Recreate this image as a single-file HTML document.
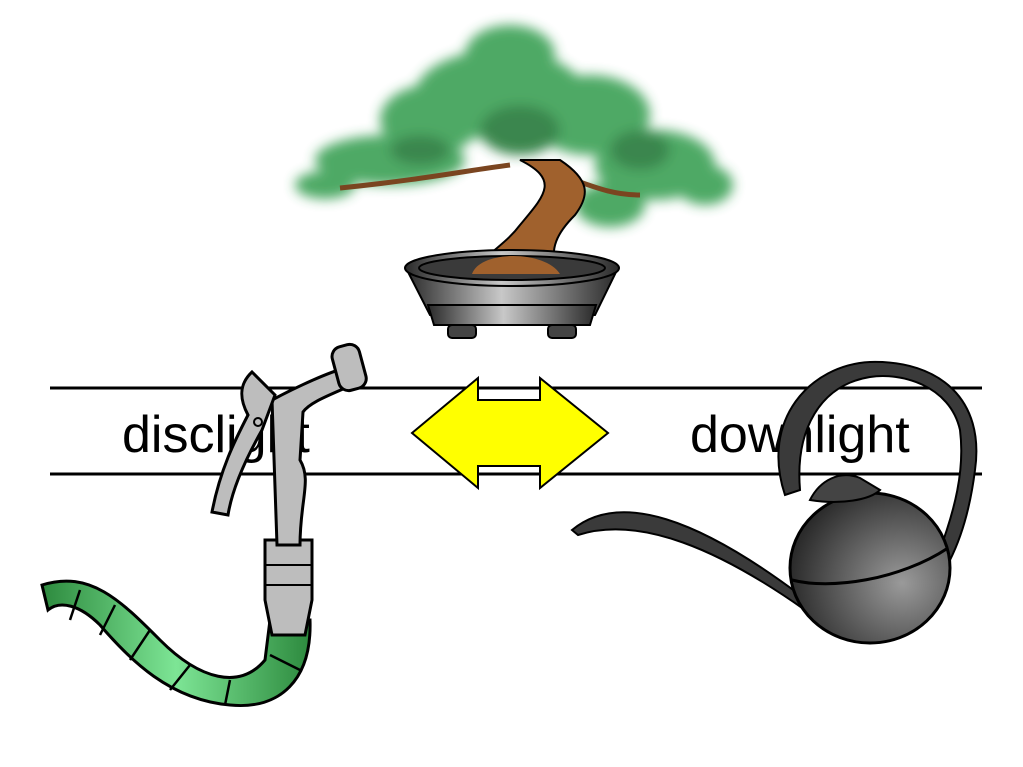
<!DOCTYPE html>
<html><head><meta charset="utf-8"><style>
html,body{margin:0;padding:0;background:#fff;}
svg{display:block;}
</style></head><body>
<svg width="1023" height="767" viewBox="0 0 1023 767" xmlns="http://www.w3.org/2000/svg">
<defs>
<filter id="blur" x="-20%" y="-20%" width="140%" height="140%"><feGaussianBlur stdDeviation="6"/></filter>
<linearGradient id="pot" x1="0" x2="1"><stop offset="0" stop-color="#2a2a2a"/><stop offset="0.45" stop-color="#c8c8c8"/><stop offset="1" stop-color="#2a2a2a"/></linearGradient>
<radialGradient id="can" cx="0.7" cy="0.6" r="0.7"><stop offset="0" stop-color="#9a9a9a"/><stop offset="1" stop-color="#2b2b2b"/></radialGradient>
<linearGradient id="hose" x1="0" x2="1"><stop offset="0" stop-color="#2d8a3e"/><stop offset="0.5" stop-color="#7de595"/><stop offset="1" stop-color="#2d8a3e"/></linearGradient>
</defs>
<rect width="1023" height="767" fill="#fff"/>
<line x1="50" y1="388" x2="982" y2="388" stroke="#000" stroke-width="3"/>
<line x1="50" y1="474" x2="982" y2="474" stroke="#000" stroke-width="3"/>
<text x="122" y="452" font-family="Liberation Sans, sans-serif" font-size="52" fill="#000">disclight</text>
<text x="690" y="452" font-family="Liberation Sans, sans-serif" font-size="52" fill="#000">downlight</text>
<polygon points="412,433 478,378 478,400 540,400 540,378 608,433 540,488 540,466 478,466 478,488" fill="#ffff00" stroke="#000" stroke-width="2"/>
<g filter="url(#blur)" fill="#3aa055" opacity="0.9">
<ellipse cx="510" cy="55" rx="45" ry="30"/>
<ellipse cx="500" cy="95" rx="85" ry="45"/>
<ellipse cx="430" cy="120" rx="50" ry="35"/>
<ellipse cx="590" cy="115" rx="60" ry="40"/>
<ellipse cx="390" cy="160" rx="75" ry="25"/>
<ellipse cx="325" cy="185" rx="30" ry="14"/>
<ellipse cx="655" cy="165" rx="60" ry="35"/>
<ellipse cx="705" cy="185" rx="28" ry="20"/>
<ellipse cx="610" cy="205" rx="35" ry="22"/>
<ellipse cx="520" cy="130" rx="40" ry="25" fill="#257a3a"/>
<ellipse cx="640" cy="150" rx="30" ry="20" fill="#257a3a"/>
<ellipse cx="420" cy="150" rx="30" ry="15" fill="#257a3a"/>
</g>
<path d="M510,165 C470,170 420,180 340,188 M560,175 C590,185 610,195 640,195" stroke="#7a4520" stroke-width="5" fill="none"/>
<path d="M470,275 C490,250 505,245 520,225 C545,195 560,180 520,160 L560,160 C590,180 590,195 575,215 C560,230 545,250 560,275 Z" fill="#a0612d" stroke="#000" stroke-width="2"/>
<path d="M406,268 L430,315 L595,315 L618,268 Z" fill="url(#pot)" stroke="#000" stroke-width="2"/>
<ellipse cx="512" cy="268" rx="107" ry="18" fill="url(#pot)" stroke="#000" stroke-width="2"/>
<ellipse cx="512" cy="268" rx="93" ry="12" fill="#3a3a3a" stroke="#000" stroke-width="2"/>
<path d="M472,274 C480,250 545,250 560,274 Z" fill="#a0612d"/>
<path d="M428,305 L596,305 L590,325 L434,325 Z" fill="url(#pot)" stroke="#000" stroke-width="2"/>
<rect x="448" y="325" width="28" height="13" rx="4" fill="#444" stroke="#000" stroke-width="2"/>
<rect x="548" y="325" width="28" height="13" rx="4" fill="#444" stroke="#000" stroke-width="2"/>
<path d="M42,585 C90,570 120,600 160,640 C200,680 240,690 265,660 L270,620 L310,620 C312,680 280,710 230,705 C170,700 130,660 100,625 C80,605 60,600 48,610 Z" fill="url(#hose)" stroke="#000" stroke-width="3"/>
<path d="M80,590 L70,620 M115,605 L100,635 M150,630 L130,660 M190,665 L170,690 M230,680 L225,705 M270,655 L300,670" stroke="#000" stroke-width="2.5"/>
<path d="M265,540 L312,540 L312,600 L305,635 L272,635 L265,600 Z" fill="#bdbdbd" stroke="#000" stroke-width="3"/>
<path d="M265,565 L312,565 M265,585 L312,585" stroke="#000" stroke-width="2"/>
<path d="M277,545 L272,400 C300,385 330,372 345,368 L352,385 C330,395 310,402 303,412 L300,460 C312,480 300,500 300,545 Z" fill="#bdbdbd" stroke="#000" stroke-width="3"/>
<rect x="335" y="345" width="28" height="45" rx="10" fill="#bdbdbd" stroke="#000" stroke-width="3" transform="rotate(-15 349 367)"/>
<path d="M252,372 L275,395 L262,430 C245,460 232,490 228,515 L212,512 C220,470 235,440 248,415 C240,400 238,385 252,372 Z" fill="#bdbdbd" stroke="#000" stroke-width="3"/>
<circle cx="258" cy="422" r="4" fill="none" stroke="#000" stroke-width="2"/>
<path d="M572,530 C620,490 700,520 800,595 L805,610 C720,550 640,515 578,535 Z" fill="#3a3a3a" stroke="#000" stroke-width="2"/>
<path d="M785,495 C760,420 810,365 870,362 C940,360 985,400 975,470 C970,510 960,540 950,560 L938,555 C955,510 965,470 960,430 C950,385 900,372 870,377 C820,385 795,430 800,490 Z" fill="#3a3a3a" stroke="#000" stroke-width="2"/>
<ellipse cx="870" cy="568" rx="80" ry="75" fill="url(#can)" stroke="#000" stroke-width="3"/>
<path d="M792,580 C830,590 900,580 948,548" stroke="#000" stroke-width="3" fill="none"/>
<path d="M810,500 C820,480 840,470 860,478 L880,490 C870,500 840,505 810,500 Z" fill="#444" stroke="#000" stroke-width="2"/>
</svg>
</body></html>
